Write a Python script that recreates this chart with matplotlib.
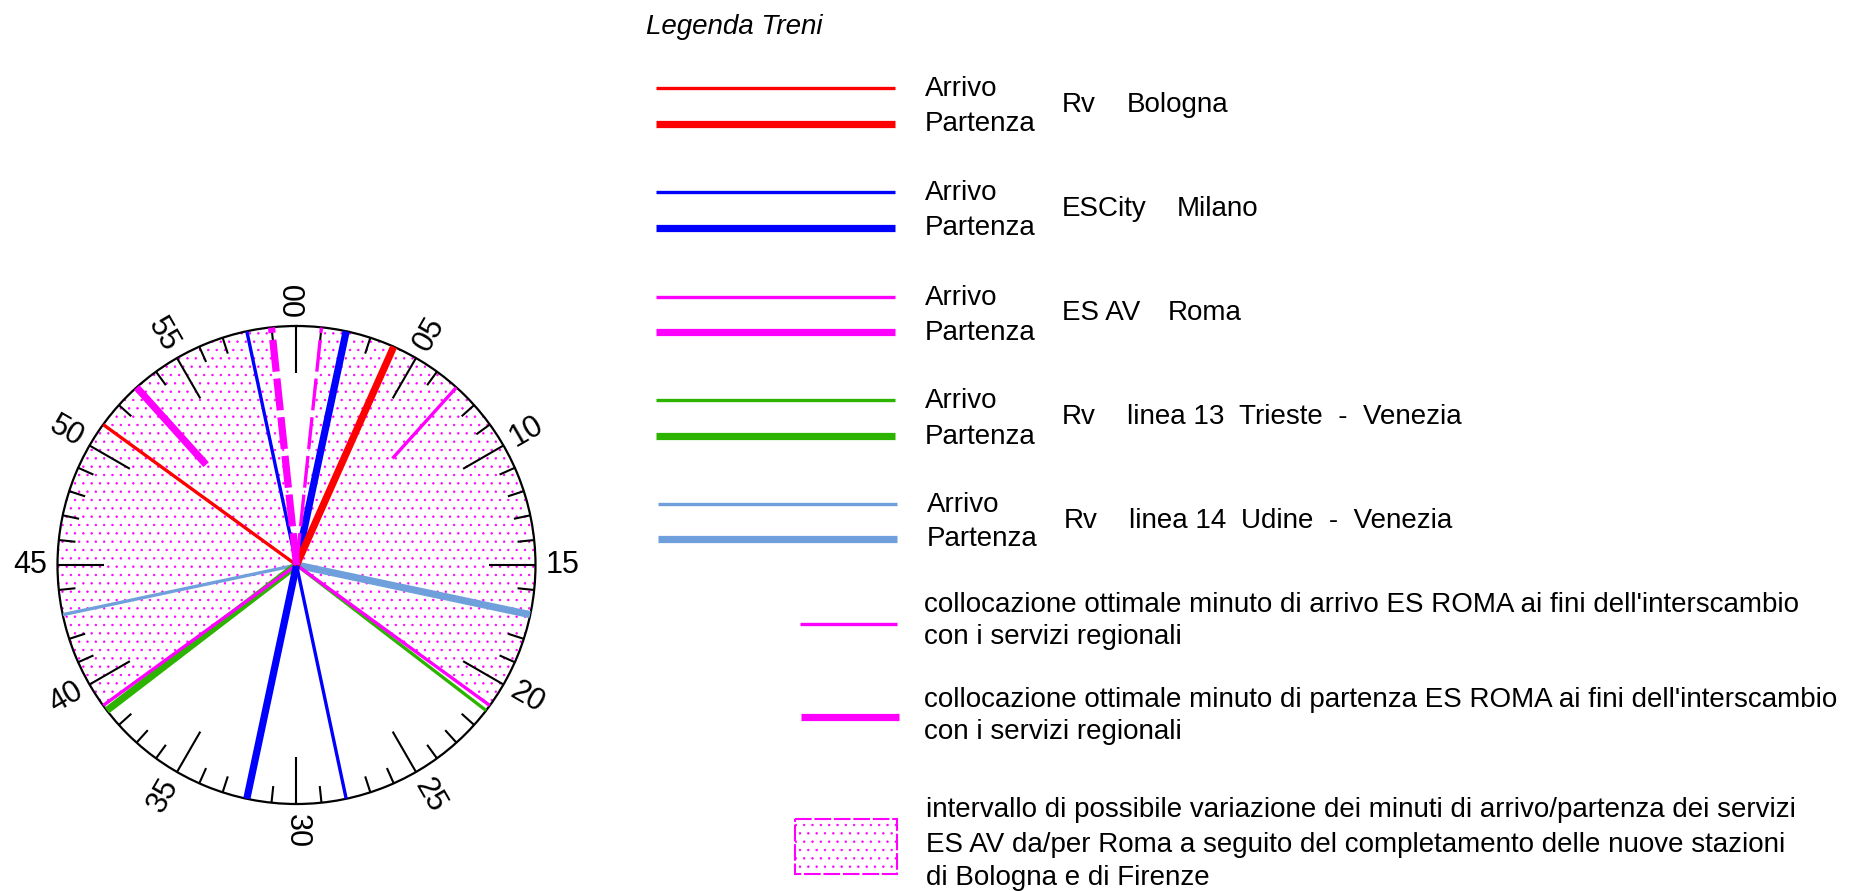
import numpy as np
import matplotlib
matplotlib.use('Agg')
import matplotlib.pyplot as plt
from matplotlib.patches import Rectangle

plt.rcParams['font.family'] = ['Liberation Sans', 'DejaVu Sans']
plt.rcParams['lines.scale_dashes'] = False
plt.rcParams['hatch.linewidth'] = 0.5

# minuti sul quadrante
minute_labels = ['00', '05', '10', '15', '20', '25', '30', '35', '40', '45', '50', '55']

rv_bologna_arr = [51]
rv_bologna_dep = [4]
escity_milano_arr = [58, 28]
escity_milano_dep = [2, 32]
esav_roma_arr = [21]
esav_roma_dep = [39]
esav_roma_arr_var = [1]     # limite tratteggiato
esav_roma_dep_var = [59]
linea13_arr = [21.25]
linea13_dep = [38.75]
linea14_arr = [43]
linea14_dep = [17]
roma_opt_arr = [7]
roma_opt_dep = [53]
roma_intervals = [(1, 21), (39, 59)]

RED = '#ff0000'
BLUE = '#0000ff'
MAG = '#ff00ff'
GREEN = '#2db400'
LBLUE = '#6fa0dc'
THIN = 2.4
THICK = 5.2
DASH = (0, (23, 5))


def th(m):
    return np.asarray(m) / 60 * 2 * np.pi


fig = plt.figure(figsize=(18.51, 8.91), dpi=100)

# asse di servizio per la legenda (coordinate in pixel)
lg = fig.add_axes([0, 0, 1, 1])
lg.set_xlim(0, 1851)
lg.set_ylim(891, 0)
lg.axis('off')
lg.patch.set_alpha(0)

# quadrante
ax = fig.add_axes([0.03106, 0.09764, 0.25824, 0.53647], projection='polar')
ax.set_theta_zero_location('N')
ax.set_theta_direction(-1)
ax.set_ylim(0, 1)
ax.set_yticks([])
ax.set_xticks([])
ax.grid(False)
ax.spines['polar'].set_linewidth(1.6)

# tacche dei minuti
for m in range(60):
    r0 = 0.805 if m % 5 == 0 else 0.93
    ax.plot([th(m), th(m)], [r0, 1], color='black', lw=1.5, solid_capstyle='butt', zorder=2)

for i, lab in enumerate(minute_labels):
    m = i * 5
    phi = 90 - 6 * m
    rot = phi if np.cos(np.radians(phi)) > 1e-6 or m == 0 else phi + 180
    if m == 30:
        rot = -90
    ax.text(th(m), 1.113, lab, fontsize=22, rotation=rot, rotation_mode='anchor',
            ha='center', va='center')

# intervalli di variazione ES AV Roma
for a, b in roma_intervals:
    ax.bar(th((a + b) / 2), 1, width=th(b - a), bottom=0, facecolor='none',
           edgecolor=MAG, linewidth=0, hatch='..', zorder=1)


def radii(mins, color, lw, r0=0.0, ls='-', z=3):
    for m in mins:
        ax.plot([th(m), th(m)], [r0, 1], color=color, lw=lw, ls=ls,
                solid_capstyle='butt', dash_capstyle='butt', zorder=z)


radii(linea14_arr, LBLUE, THIN)
radii(linea14_dep, LBLUE, THICK)
radii(linea13_dep, GREEN, THICK)
radii(linea13_arr, GREEN, THIN)
radii(esav_roma_arr, MAG, THIN)
radii(esav_roma_dep, MAG, THIN)
radii(roma_opt_arr, MAG, THIN, r0=0.6)
radii(roma_opt_dep, MAG, THICK, r0=0.565)
radii(escity_milano_arr, BLUE, THIN)
radii(escity_milano_dep, BLUE, THICK)
radii(rv_bologna_arr, RED, THIN)
radii(rv_bologna_dep, RED, THICK)
radii(esav_roma_dep_var, MAG, THICK, ls=DASH, z=4)
radii(esav_roma_arr_var, MAG, THIN, ls=DASH, z=4)

# legenda
FS = 20
lg.text(646, 34, 'Legenda Treni', fontsize=FS, style='italic', va='baseline')

rows = [
    (RED, [(1062, 'Rv'), (1127, 'Bologna')], 88, 123.7, 0),
    (BLUE, [(1062, 'ESCity'), (1177, 'Milano')], 192, 227.7, 0),
    (MAG, [(1062, 'ES AV'), (1168, 'Roma')], 296.7, 332.3, 0),
    (GREEN, [(1062, 'Rv'), (1127, 'linea 13'), (1239, 'Trieste  -  Venezia')], 400.3, 436, 0),
    (LBLUE, [(1062, 'Rv'), (1127, 'linea 14'), (1239, 'Udine  -  Venezia')], 504, 539, 2),
]
for color, parts, y1, y2, dx in rows:
    lg.plot([656 + dx, 895 + dx], [y1, y1], color=color, lw=THIN, solid_capstyle='butt')
    lg.plot([656 + dx, 895 + dx], [y2, y2], color=color, lw=THICK, solid_capstyle='butt')
    lg.text(925 + dx, y1 + 8, 'Arrivo', fontsize=FS, va='baseline')
    lg.text(925 + dx, y2 + 7.5, 'Partenza', fontsize=FS, va='baseline')
    for x, s in parts:
        lg.text(x + dx, (y1 + y2) / 2 + 6, s, fontsize=FS, va='baseline')

lg.plot([800, 897], [623.7, 623.7], color=MAG, lw=THIN, solid_capstyle='butt')
lg.text(924, 612.3, "collocazione ottimale minuto di arrivo ES ROMA ai fini dell'interscambio",
        fontsize=FS, va='baseline')
lg.text(924, 644.3, 'con i servizi regionali', fontsize=FS, va='baseline')

lg.plot([801, 899], [717, 717], color=MAG, lw=THICK, solid_capstyle='butt')
lg.text(924, 706.7, "collocazione ottimale minuto di partenza ES ROMA ai fini dell'interscambio",
        fontsize=FS, va='baseline')
lg.text(924, 739, 'con i servizi regionali', fontsize=FS, va='baseline')

lg.add_patch(Rectangle((795, 819), 102, 55, facecolor='none', edgecolor=MAG, lw=1.5,
                       ls=(0, (12, 2)), hatch='..'))
lg.text(926, 817.3, 'intervallo di possibile variazione dei minuti di arrivo/partenza dei servizi',
        fontsize=FS, va='baseline')
lg.text(926, 851.7, 'ES AV da/per Roma a seguito del completamento delle nuove stazioni',
        fontsize=FS, va='baseline')
lg.text(926, 885, 'di Bologna e di Firenze', fontsize=FS, va='baseline')

fig.savefig('out.png', dpi=100, facecolor='white')
